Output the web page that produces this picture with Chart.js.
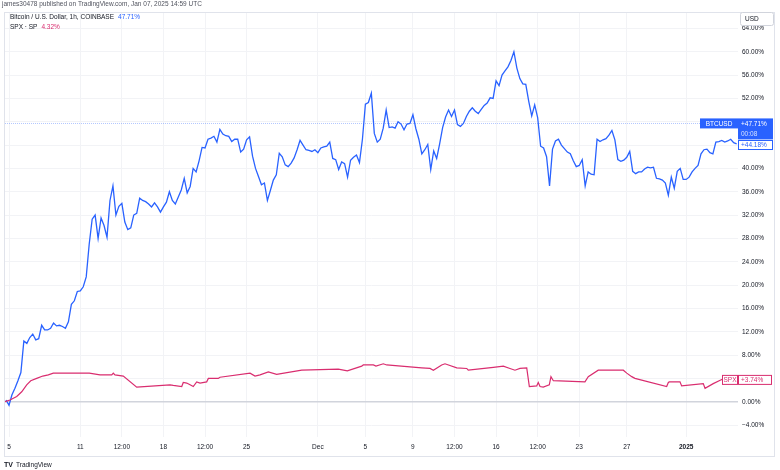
<!DOCTYPE html>
<html>
<head>
<meta charset="utf-8">
<script src="https://cdn.jsdelivr.net/npm/chart.js@4.4.1/dist/chart.umd.min.js"></script>
<style>
  html, body { margin: 0; padding: 0; background: #fff; }
  canvas { display: block; }
</style>
</head>
<body>
<canvas id="chart" width="780" height="470"></canvas>
<script>
// x unit: days after Nov 5, 2024 00:00
const tickDays = [0, 6, 9.5, 13, 16.5, 20, 26, 30, 34, 37.5, 41, 44.5, 48, 52, 57];
const tickLabels = ['5', '11', '12:00', '18', '12:00', '25', 'Dec', '5', '9', '12:00', '16', '12:00', '23', '27', '2025'];
const yTicks = [-4, 0, 4, 8, 12, 16, 20, 24, 28, 32, 36, 40, 44, 48, 52, 56, 60, 64];

// BTCUSD % change, one sample every 6 hours
const btcStart = -0.25;
const btcStep = 0.25;
const btcPct = [
  0.3, -0.6, 1.2, 2.3, 3.6, 5.0, 10.4, 10.0, 11.0, 11.6,
  10.6, 10.8, 13.1, 12.3, 12.3, 12.6, 13.5, 13.0, 13.1, 12.9,
  12.6, 13.7, 16.7, 17.3, 18.9, 19.0, 19.7, 21.4, 27.0, 31.3,
  32.0, 28.0, 31.5, 30.2, 28.2, 34.5, 37.0, 32.0, 33.5, 34.0,
  30.8, 29.5, 29.8, 32.0, 32.3, 34.9, 34.5, 34.3, 33.9, 33.4,
  34.1, 33.4, 32.5, 33.4, 34.2, 36.0, 34.5, 33.9, 35.1, 36.3,
  38.3, 35.8, 36.9, 40.0, 39.4, 41.3, 43.6, 43.5, 45.0, 45.2,
  45.5, 44.5, 46.7, 45.9, 45.6, 45.5, 44.6, 45.0, 45.0, 42.8,
  43.3, 44.9, 45.4, 42.1, 40.0, 38.6, 37.2, 37.5, 34.5, 36.2,
  38.0, 38.9, 42.6, 42.0, 40.6, 40.3, 40.9, 41.8, 43.2, 44.8,
  44.0, 43.2, 43.1, 42.9, 43.2, 42.7, 43.5, 43.7, 43.8, 44.5,
  41.7, 41.5, 39.8, 41.1, 40.8, 38.5, 41.4, 41.9, 42.3, 41.0,
  45.0, 51.0, 51.3, 52.9, 46.0, 44.5, 45.0, 46.9, 50.0, 47.0,
  47.1, 46.9, 48.0, 47.6, 46.6, 47.6, 47.7, 49.2, 46.8, 45.0,
  42.5, 43.2, 44.1, 39.8, 43.0, 41.7, 44.2, 47.0, 48.8, 50.0,
  48.9, 50.0, 47.5, 47.2, 47.7, 48.9, 49.8, 50.4, 49.8, 49.4,
  50.1, 50.8, 51.2, 52.1, 52.0, 55.0, 54.2, 56.0, 56.7, 57.4,
  58.5, 60.0, 57.2, 55.4, 54.5, 54.4, 51.5, 49.0, 50.9, 48.7,
  43.8, 43.5, 42.0, 37.0, 43.3, 44.7, 45.0, 44.0, 43.4, 42.8,
  42.5, 41.3, 40.3, 40.5, 41.5, 37.0, 39.4, 39.0, 38.9, 45.0,
  44.6, 44.9, 45.1, 45.7, 46.5, 44.9, 41.5, 41.2, 41.4, 41.9,
  42.9, 39.5, 39.1, 39.4, 39.4, 39.9, 40.2, 40.1, 40.2, 38.3,
  38.2, 38.0, 37.5, 35.4, 38.5, 36.6, 39.5, 40.0, 38.1, 38.1,
  38.5, 39.4, 40.0, 40.5, 42.5, 43.2, 43.3, 42.7, 42.5, 44.5,
  44.6, 44.8, 44.5, 44.7, 45.0, 44.4, 44.2
];

// SPX % change
const spxDays = [
  -0.34, 0.08, 0.65, 1.07, 1.49, 1.83, 2.33, 2.84, 3.31, 3.73,
  6.76, 7.66, 8.65, 8.78, 8.92, 9.62, 10.75, 13.55, 13.83, 14.54,
  14.67, 14.96, 15.24, 15.51, 15.80, 16.08, 16.64, 16.78, 17.62, 17.76,
  20.29, 20.71, 21.13, 21.83, 22.53, 24.64, 27.72, 28.48, 29.69, 29.82,
  30.67, 30.89, 31.51, 31.79, 34.74, 35.44, 35.72, 36.42, 36.70, 37.69,
  38.53, 38.66, 40.77, 41.61, 42.17, 42.59, 43.01, 43.58, 43.80, 44.42,
  44.55, 44.70, 44.97, 45.48, 45.62, 45.82, 48.48, 48.76, 49.60, 51.71,
  52.00, 52.42, 52.69, 55.36, 55.50, 55.58, 56.48, 56.62, 58.44, 58.59,
  59.28, 59.99, 61.36
];
const spxPct = [
  0.0, 0.3, 0.9, 1.7, 2.9, 3.6, 4.0, 4.4, 4.6, 4.9,
  4.9, 4.6, 4.6, 4.9, 4.6, 4.4, 2.5, 2.9, 2.8, 2.6,
  3.3, 3.2, 2.9, 2.6, 3.4, 3.2, 3.4, 4.0, 4.0, 4.2,
  4.9, 4.4, 4.6, 5.1, 4.7, 5.4, 5.6, 5.3, 6.1, 6.3,
  6.3, 6.1, 6.5, 6.3, 5.8, 5.7, 5.4, 6.3, 6.5, 5.8,
  5.7, 5.4, 5.9, 6.1, 5.7, 5.4, 5.7, 5.8, 2.6, 2.7,
  3.3, 2.6, 2.5, 2.9, 4.3, 3.6, 3.4, 4.3, 5.4, 5.4,
  4.9, 4.3, 4.0, 2.6, 3.3, 3.4, 3.4, 2.7, 3.1, 2.3,
  3.1, 3.8, 3.74
];

const btcLast = 47.71;
const btcCursor = 44.18;
const spxLast = 3.74;

const BLUE = '#2962ff';
const PINK = '#d92d6f';
const FONT = "'Liberation Sans', Arial, sans-serif";

function pctLabel(v) {
  return (v < 0 ? '\u2212' : '') + Math.abs(v).toFixed(2) + '%';
}

function tag(ctx, x, yc, w, h, text, fill, stroke, color, align) {
  ctx.save();
  if (fill) { ctx.fillStyle = fill; ctx.fillRect(x, yc - h / 2, w, h); }
  if (stroke) { ctx.strokeStyle = stroke; ctx.lineWidth = 1; ctx.strokeRect(x + 0.5, yc - h / 2 + 0.5, w - 1, h - 1); }
  ctx.fillStyle = color;
  ctx.font = '6.5px ' + FONT;
  ctx.textBaseline = 'middle';
  ctx.textAlign = align || 'center';
  ctx.fillText(text, align === 'left' ? x + 3 : x + w / 2, yc + 0.5);
  ctx.restore();
}

const overlay = {
  id: 'overlay',
  beforeDatasetsDraw(chart) {
    const { ctx, chartArea, scales: { y } } = chart;
    const yy = Math.round(y.getPixelForValue(btcLast)) + 0.5;
    ctx.save();
    ctx.strokeStyle = 'rgba(41, 98, 255, 0.35)';
    ctx.setLineDash([1, 1]);
    ctx.beginPath();
    ctx.moveTo(chartArea.left, yy);
    ctx.lineTo(chartArea.right, yy);
    ctx.stroke();
    ctx.restore();
  },
  afterDraw(chart) {
    const { ctx, chartArea, scales: { y } } = chart;
    ctx.save();
    // frame
    ctx.strokeStyle = '#e0e3eb';
    ctx.lineWidth = 1;
    ctx.strokeRect(4.5, 12.5, 770, 444);

    // header
    ctx.textBaseline = 'middle';
    ctx.textAlign = 'left';
    ctx.font = '6.5px ' + FONT;
    ctx.fillStyle = '#50535e';
    ctx.fillText('james30478 published on TradingView.com, Jan 07, 2025 14:59 UTC', 2, 4.5);
    ctx.fillStyle = '#131722';
    let t = 'Bitcoin / U.S. Dollar, 1h, COINBASE';
    ctx.fillText(t, 10, 17.5);
    ctx.fillStyle = BLUE;
    ctx.fillText('47.71%', 10 + ctx.measureText(t).width + 4, 17.5);
    ctx.fillStyle = '#131722';
    t = 'SPX \u00b7 SP';
    ctx.fillText(t, 10, 27.5);
    ctx.fillStyle = PINK;
    ctx.fillText('4.32%', 10 + ctx.measureText(t).width + 4, 27.5);

    // USD box
    ctx.fillStyle = '#fff';
    ctx.strokeStyle = '#d1d4dc';
    ctx.beginPath();
    ctx.roundRect(740.5, 12.5, 33, 13, 2);
    ctx.fill();
    ctx.stroke();
    ctx.fillStyle = '#131722';
    ctx.fillText('USD', 745, 19.5);

    // price tags
    const yb = y.getPixelForValue(btcLast);
    tag(ctx, 700, yb, 38, 10, 'BTCUSD', BLUE, null, '#fff');
    ctx.fillStyle = BLUE;
    ctx.fillRect(738, yb - 5, 35, 21);
    ctx.fillStyle = '#fff';
    ctx.font = '6.5px ' + FONT;
    ctx.textAlign = 'left';
    ctx.fillText('+' + btcLast.toFixed(2) + '%', 741, yb + 0.5);
    ctx.fillStyle = 'rgba(255,255,255,0.8)';
    ctx.fillText('00:08', 741, yb + 10.5);
    const yc = y.getPixelForValue(btcCursor);
    tag(ctx, 738, yc + 1, 35, 10, '+' + btcCursor.toFixed(2) + '%', '#fff', BLUE, BLUE, 'left');
    const ys = y.getPixelForValue(spxLast);
    tag(ctx, 722, ys, 16, 10, 'SPX', '#fff', PINK, PINK);
    tag(ctx, 738, ys, 34, 10, '+' + spxLast.toFixed(2) + '%', '#fff', PINK, PINK, 'left');

    // logo
    ctx.fillStyle = '#131722';
    ctx.font = 'bold 7px ' + FONT;
    ctx.textAlign = 'left';
    ctx.fillText('TV', 4, 465);
    ctx.font = '6.5px ' + FONT;
    ctx.fillText('TradingView', 16, 465);
    ctx.restore();
  }
};

new Chart(document.getElementById('chart'), {
  type: 'line',
  data: {
    datasets: [
      {
        label: 'SPX',
        data: spxDays.map((d, i) => ({ x: d, y: spxPct[i] })),
        borderColor: PINK,
        borderWidth: 1.2,
        pointRadius: 0,
        tension: 0
      },
      {
        label: 'BTCUSD',
        data: btcPct.map((v, i) => ({ x: btcStart + i * btcStep, y: v })),
        borderColor: BLUE,
        borderWidth: 1.3,
        pointRadius: 0,
        tension: 0
      }
    ]
  },
  options: {
    responsive: false,
    animation: false,
    devicePixelRatio: 1,
    layout: { padding: { top: 13, bottom: 15, left: 5, right: 0 } },
    plugins: { legend: { display: false }, tooltip: { enabled: false } },
    scales: {
      x: {
        type: 'linear',
        min: -0.337,
        max: 61.364,
        afterBuildTicks: (s) => { s.ticks = tickDays.map(v => ({ value: v })); },
        afterFit: (s) => { s.height = 18; },
        border: { display: false },
        grid: { color: '#f2f3f6', drawTicks: false },
        ticks: {
          padding: 6,
          maxRotation: 0,
          autoSkip: false,
          color: '#131722',
          font: (c) => ({ family: FONT, size: 6.5, weight: c.tick && c.tick.value === 57 ? 'bold' : 'normal' }),
          callback: (v) => tickLabels[tickDays.indexOf(v)]
        }
      },
      y: {
        position: 'right',
        min: -6.05,
        max: 66.64,
        afterBuildTicks: (s) => { s.ticks = yTicks.map(v => ({ value: v })); },
        afterFit: (s) => { s.width = 42; },
        border: { display: false },
        grid: {
          color: (c) => c.tick && c.tick.value === 0 ? '#d1d4dc' : '#f2f3f6',
          lineWidth: (c) => c.tick && c.tick.value === 0 ? 1.5 : 1,
          drawTicks: false
        },
        ticks: {
          padding: 4,
          color: '#131722',
          font: { family: FONT, size: 6.5 },
          callback: (v) => pctLabel(v)
        }
      }
    }
  },
  plugins: [overlay]
});
</script>
</body>
</html>
